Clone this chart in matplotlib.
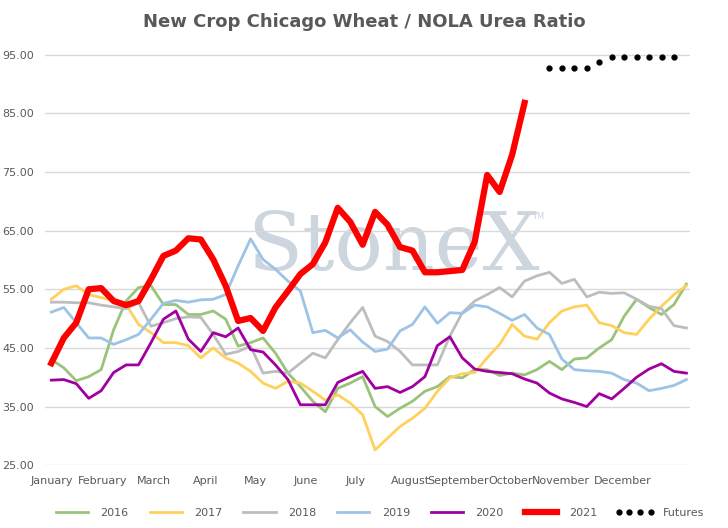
import matplotlib
matplotlib.use("Agg")
import matplotlib.pyplot as plt
import numpy as np

months = ["January", "February", "March", "April", "May", "June", "July",
          "August", "September", "October", "November", "December"]
month_pos = [0, 4.1, 8.2, 12.4, 16.4, 20.4, 24.4, 28.8, 32.7, 36.9, 40.9, 45.9]

y2016 = [43, 41.6, 39.4, 40.1, 41.3, 48.1, 53, 55.3, 55.6, 52.4, 52.4, 50.7, 50.7, 51.3,
         49.9, 45.3, 45.9, 46.7, 44.1, 40.7, 38.4, 35.9, 34.1, 38.1, 39, 40.1, 35, 33.3,
         34.7, 35.9, 37.6, 38.4, 40.1, 39.9, 41.3, 41.3, 40.3, 40.7, 40.4, 41.3, 42.7,
         41.3, 43.1, 43.3, 45, 46.4, 50.4, 53.3, 51.9, 50.7, 52.4, 55.9]
y2017 = [53.3, 55, 55.6, 54.1, 53.6, 53, 52.4, 49, 47.6, 45.9, 45.9, 45.4, 43.3, 45,
         43.3, 42.4, 41, 39, 38.1, 39.3, 39, 37.6, 36.1, 37, 35.6, 33.6, 27.6, 29.6,
         31.6, 33, 34.7, 37.6, 39.9, 40.6, 40.8, 43.3, 45.6, 49, 47, 46.5, 49.3, 51.3,
         52, 52.3, 49.3, 48.8, 47.6, 47.3, 49.9, 52.1, 54.1, 55.6]
y2018 = [52.8, 52.8, 52.7, 52.7, 52.3, 52, 51.7, 52.7, 48.7, 49.3, 50, 50.3, 50.2, 47.3,
         43.9, 44.4, 45.3, 40.7, 41, 40.7, 42.4, 44.1, 43.3, 46.4, 49.3, 51.9, 47, 46.1,
         44.4, 42.1, 42.1, 42.1, 47, 51, 53, 54.1, 55.3, 53.7, 56.4, 57.3, 57.9, 56,
         56.7, 53.7, 54.5, 54.3, 54.4, 53.3, 52.1, 51.7, 48.8, 48.4]
y2019 = [51.1, 51.9, 49.3, 46.7, 46.7, 45.6, 46.4, 47.3, 49.9, 52.6, 53.1, 52.8, 53.2,
         53.3, 54.1, 59, 63.6, 60.1, 58.4, 56.4, 54.7, 47.6, 48, 46.7, 48.1, 46, 44.4,
         44.8, 47.9, 49, 52, 49.2, 51, 50.9, 52.3, 52, 50.9, 49.7, 50.7, 48.4, 47.3, 43.1,
         41.3, 41.1, 41, 40.7, 39.6, 39, 37.7, 38.1, 38.6, 39.6]
y2020 = [39.5, 39.6, 38.9, 36.4, 37.7, 40.8, 42.1, 42.1, 45.9, 49.9, 51.3, 46.5, 44.4,
         47.6, 46.9, 48.4, 44.7, 44.3, 42.1, 39.6, 35.3, 35.3, 35.3, 39.1, 40.1, 41, 38.1,
         38.4, 37.4, 38.4, 40.1, 45.4, 46.9, 43.3, 41.4, 41, 40.8, 40.6, 39.7, 39, 37.3,
         36.3, 35.7, 35, 37.2, 36.3, 38.1, 40, 41.4, 42.3, 41, 40.7]
y2021 = [42.4, 46.7, 49.3, 55, 55.2, 53, 52.3, 53, 56.7, 60.7, 61.6, 63.7, 63.5, 60.1,
         55.6, 49.6, 50.1, 47.9, 51.9, 54.7, 57.6, 59.3, 63, 68.9, 66.5, 62.6, 68.2, 66,
         62.2, 61.6, 57.9, 57.9, 58.1, 58.3, 63.1, 74.5, 71.6, 77.9, 86.8]
futures = [92.8, 92.8, 92.8, 92.8, 93.8, 94.6, 94.6, 94.6, 94.6, 94.6, 94.6]
futures_x = np.arange(40, 40 + len(futures))

fig = plt.figure(figsize=(7.28, 5.28), dpi=100)
ax = fig.add_axes([0.062, 0.119, 0.886, 0.805])

# watermark
ax.text(0.54, 0.51, "StoneX", transform=ax.transAxes, fontsize=58, family="serif",
        color="#cdd5de", ha="center", va="center", zorder=0)
ax.text(0.755, 0.58, "TM", transform=ax.transAxes, fontsize=6, color="#cdd5de", zorder=0)

ax.plot(np.arange(len(y2016)), y2016, color="#9bc37a", lw=2, label="2016")
ax.plot(np.arange(len(y2017)), y2017, color="#ffd15c", lw=2, label="2017")
ax.plot(np.arange(len(y2018)), y2018, color="#bdbdbd", lw=2, label="2018")
ax.plot(np.arange(len(y2019)), y2019, color="#9dc3e6", lw=2, label="2019")
ax.plot(np.arange(len(y2020)), y2020, color="#a000a0", lw=2, label="2020")
ax.plot(np.arange(len(y2021)), y2021, color="#ff0000", lw=4.5, label="2021")
ax.plot(futures_x, futures, ls="none", marker="o", ms=3.5, color="black", label="Futures")

ax.set_xlim(-0.5, 51.3)
ax.set_ylim(25, 97.5)
ax.set_yticks(np.arange(25, 96, 10))
ax.set_yticklabels([f"{v:.2f}" for v in np.arange(25, 96, 10)], fontsize=8, color="#595959")
ax.set_xticks(month_pos)
ax.set_xticklabels(months, fontsize=8, color="#595959")
ax.tick_params(length=0, pad=8)
ax.grid(axis="y", color="#d9d9d9", lw=1)
for s in ax.spines.values():
    s.set_visible(False)
ax.set_axisbelow(True)

fig.suptitle("New Crop Chicago Wheat / NOLA Urea Ratio", y=0.975, fontsize=13,
             fontweight="bold", color="#595959")
leg = fig.legend(loc="lower center", ncol=7, frameon=False, fontsize=8,
                 bbox_to_anchor=(0.52, 0.0), handlelength=3.5, columnspacing=1.6,
                 numpoints=4)
for t in leg.get_texts():
    t.set_color("#595959")

fig.savefig("out.png", dpi=100)
